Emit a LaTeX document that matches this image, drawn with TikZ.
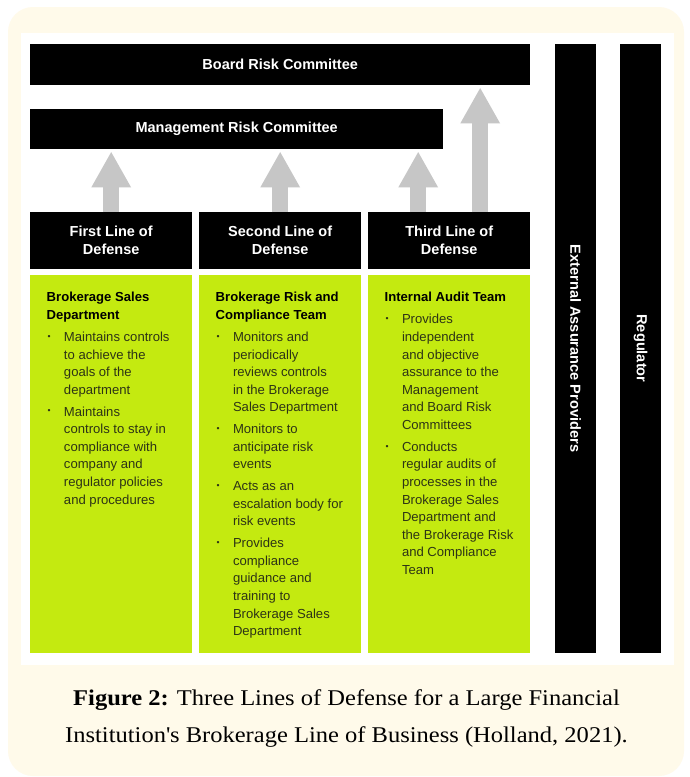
\documentclass[tikz,border=0pt]{standalone}
\usepackage{fontspec}
\setmainfont{Liberation Serif}[FakeStretch=1.09]
\newfontfamily\arialfont{Liberation Sans}
\usetikzlibrary{arrows.meta}
\definecolor{cream}{RGB}{255,250,234}
\definecolor{lime}{RGB}{196,234,16}
\definecolor{arrowgray}{RGB}{198,198,198}
\definecolor{bodytext}{RGB}{45,52,22}
% small list bullet
\newcommand\dotmark{\hspace{0.9pt}\raisebox{2.2pt}{\scalebox{0.66}{\textbullet}}}

\begin{document}
\begin{tikzpicture}[x=1pt,y=-1pt,
  blackbox/.style={fill=black, draw=none, text=white, anchor=north west, inner sep=0,
    font=\arialfont\bfseries\fontsize{14.5}{18}\selectfont, align=center},
  greenbox/.style={fill=lime, draw=none, anchor=north west, inner sep=0,
    minimum width=162pt, minimum height=378pt},
  linebox/.style={blackbox, minimum width=162pt, minimum height=57pt},
  sidebar/.style={fill=black, draw=none, text=white, inner sep=0, rotate=-90,
    minimum width=609pt, minimum height=41pt,
    font=\arialfont\bfseries\fontsize{14.6}{18}\selectfont},
  uparrow/.style={draw=arrowgray, line width=16pt,
    -{Triangle[width=37pt,length=36pt]}, shorten >=2pt},
  coltext/.style={anchor=base west, inner sep=0, text=bodytext,
    font=\arialfont\fontsize{13.1}{17.6}\selectfont},
  caption/.style={anchor=base, inner sep=0, text=black,
    font=\fontsize{22.5}{37}\selectfont},
]
\useasboundingbox (0,0) rectangle (690,777);
\fill[white] (0,0) rectangle (690,777);

% page panels
\fill[cream, rounded corners=25pt] (8,7) rectangle (684,776);
\fill[white] (21,33) rectangle (674,665);

% committees
\node[blackbox, minimum width=500pt, minimum height=41pt] (board) at (30,44) {Board Risk Committee};
\node[blackbox, minimum width=413pt, minimum height=40pt] (mgmt) at (30,109) {Management Risk Committee};

% the three lines
\node[linebox] (l1) at (30,212)  {First Line of\\Defense};
\node[linebox] (l2) at (199,212) {Second Line of\\Defense};
\node[linebox] (l3) at (368,212) {Third Line of\\Defense};

\node[greenbox] (g1) at (30,275)  {};
\node[greenbox] (g2) at (199,275) {};
\node[greenbox] (g3) at (368,275) {};

% outside parties
\node[sidebar] (ext) at (575.5,348.5) {External Assurance Providers};
\node[sidebar] (reg) at (640.5,348.5) {Regulator};

% reporting arrows
\draw[uparrow] (l1.north) -- (l1.north |- mgmt.south);
\draw[uparrow] (l2.north) -- (l2.north |- mgmt.south);
\draw[uparrow] ([xshift=-31pt]l3.north) -- ([xshift=-31pt]l3.north |- mgmt.south);
\draw[uparrow] ([xshift=31pt]l3.north) -- ([xshift=31pt]l3.north |- board.south);

% column texts
\node[coltext] (t1) at (46.5,301.5) {\begin{tabular}[t]{@{}p{17.3pt}@{}l@{}}
\multicolumn{2}{@{}l@{}}{\bfseries\color{black}Brokerage Sales}\\
\multicolumn{2}{@{}l@{}}{\bfseries\color{black}Department}\\[4.8pt]
\dotmark & Maintains controls\\
 & to achieve the\\
 & goals of the\\
 & department\\[4.2pt]
\dotmark & Maintains\\
 & controls to stay in\\
 & compliance with\\
 & company and\\
 & regulator policies\\
 & and procedures
\end{tabular}};

\node[coltext] (t2) at (215.5,301.5) {\begin{tabular}[t]{@{}p{17.3pt}@{}l@{}}
\multicolumn{2}{@{}l@{}}{\bfseries\color{black}Brokerage Risk and}\\
\multicolumn{2}{@{}l@{}}{\bfseries\color{black}Compliance Team}\\[4.8pt]
\dotmark & Monitors and\\
 & periodically\\
 & reviews controls\\
 & in the Brokerage\\
 & Sales Department\\[4.2pt]
\dotmark & Monitors to\\
 & anticipate risk\\
 & events\\[4.2pt]
\dotmark & Acts as an\\
 & escalation body for\\
 & risk events\\[4.2pt]
\dotmark & Provides\\
 & compliance\\
 & guidance and\\
 & training to\\
 & Brokerage Sales\\
 & Department
\end{tabular}};

\node[coltext] (t3) at (384.5,301.5) {\begin{tabular}[t]{@{}p{17.3pt}@{}l@{}}
\multicolumn{2}{@{}l@{}}{\bfseries\color{black}Internal Audit Team}\\[4.8pt]
\dotmark & Provides\\
 & independent\\
 & and objective\\
 & assurance to the\\
 & Management\\
 & and Board Risk\\
 & Committees\\[4.2pt]
\dotmark & Conducts\\
 & regular audits of\\
 & processes in the\\
 & Brokerage Sales\\
 & Department and\\
 & the Brokerage Risk\\
 & and Compliance\\
 & Team
\end{tabular}};

% caption
\node[caption] (cap) at (346.5,705) {\begin{tabular}[t]{@{}c@{}}
\textbf{Figure 2:} Three Lines of Defense for a Large Financial\\
Institution\textquotesingle s Brokerage Line of Business (Holland, 2021).
\end{tabular}};
\end{tikzpicture}
\end{document}
